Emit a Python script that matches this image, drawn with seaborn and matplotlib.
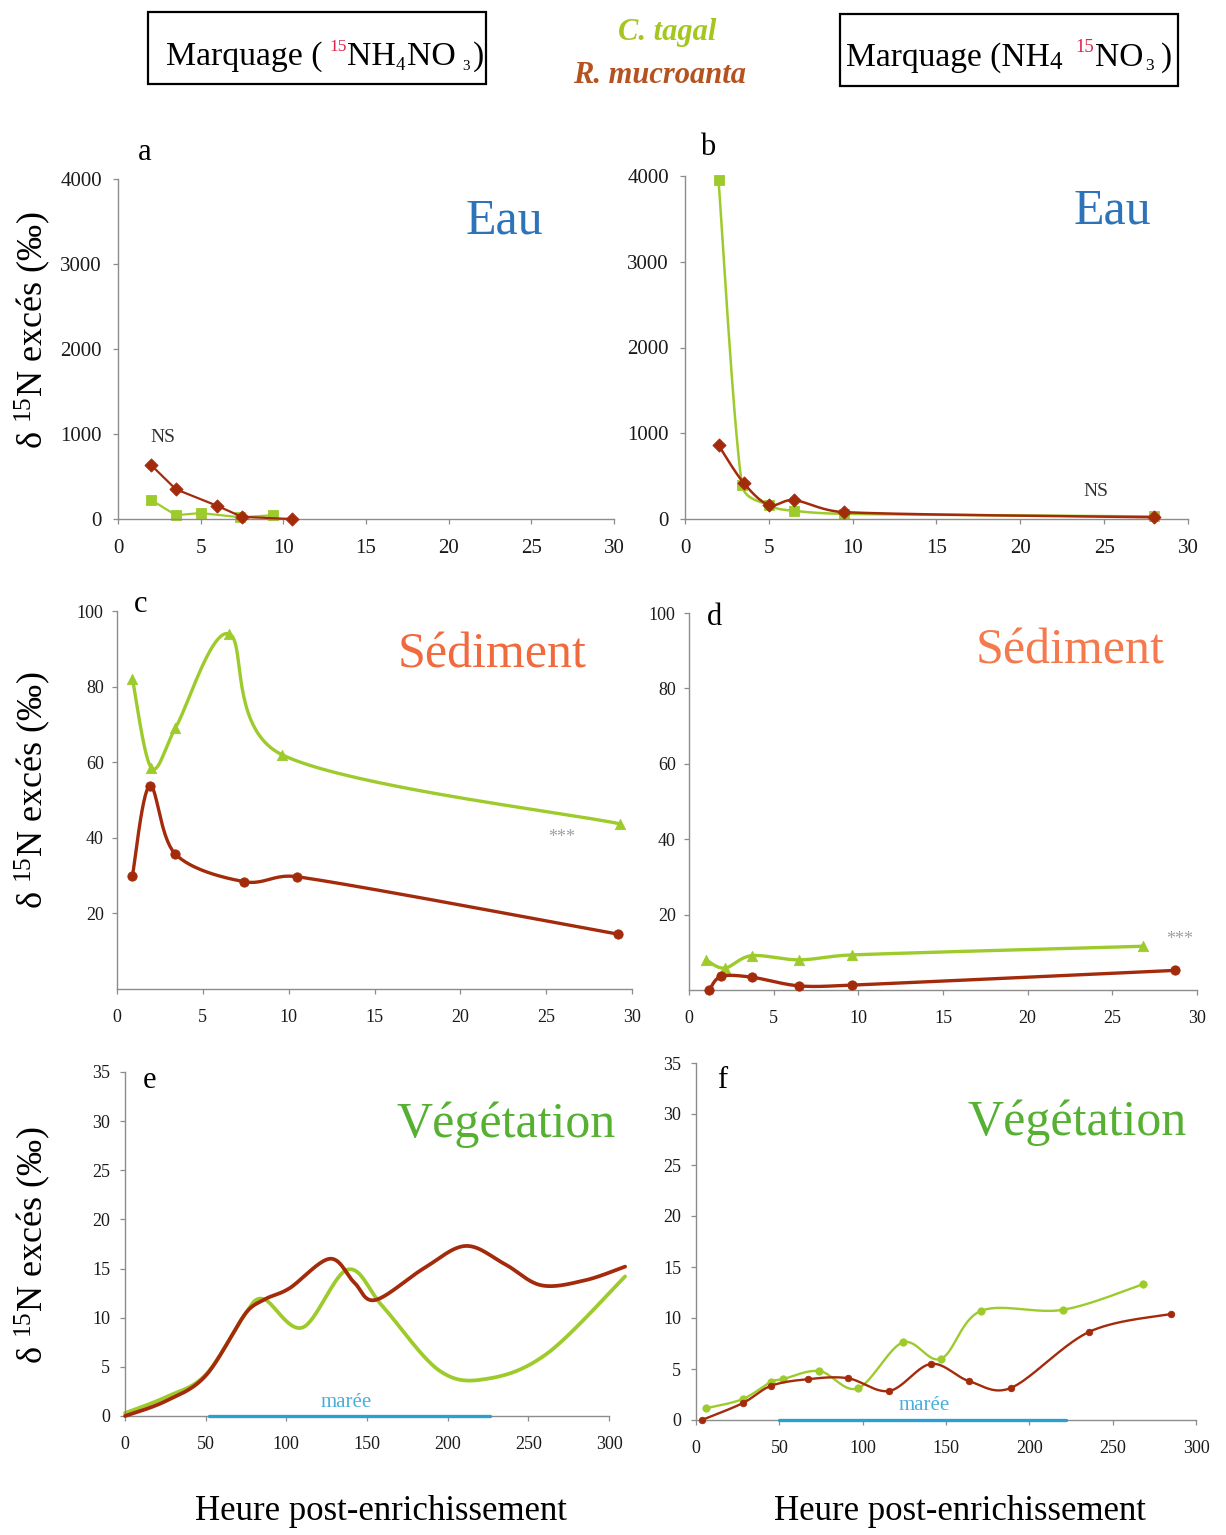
import numpy as np
import matplotlib
matplotlib.use("Agg")
import matplotlib.pyplot as plt
import seaborn as sns
from matplotlib.patches import Rectangle
from matplotlib.transforms import IdentityTransform

# ---------------- data ----------------
# a : water, 15NH4NO3 labelling (hours, delta 15N excess)
a_ct_x = [2.0, 3.5, 5.0, 7.4, 9.4]
a_ct_y = [225, 45, 70, 20, 45]
a_rm_x = [2.0, 3.5, 6.0, 7.5, 10.5]
a_rm_y = [635, 350, 155, 25, 0]

# b : water, NH4 15NO3 labelling
b_ct_x = [2.0, 3.4, 5.0, 6.5, 9.5, 28.0]
b_ct_y = [3950, 400, 160, 95, 60, 30]
b_rm_x = [2.0, 3.5, 5.0, 6.5, 9.5, 28.0]
b_rm_y = [860, 420, 165, 220, 80, 20]

# c : sediment, 15NH4NO3
c_ct_x = [0.9, 2.0, 3.4, 6.5, 9.6, 29.3]
c_ct_y = [82, 58.5, 69, 94, 62, 43.7]
c_rm_x = [0.9, 1.9, 3.4, 7.4, 10.5, 29.2]
c_rm_y = [30, 53.7, 35.7, 28.4, 29.7, 14.5]

# d : sediment, NH4 15NO3
d_ct_x = [1.0, 2.1, 3.7, 6.5, 9.6, 26.8]
d_ct_y = [8.0, 5.8, 9.1, 8.0, 9.3, 11.6]
d_rm_x = [1.2, 1.9, 3.7, 6.5, 9.6, 28.7]
d_rm_y = [0.0, 3.6, 3.4, 1.1, 1.3, 5.2]

# e : vegetation, 15NH4NO3
e_ct_x = [0, 25, 50, 75, 86, 110, 138, 160, 195, 225, 262, 310]
e_ct_y = [0.3, 1.9, 4.2, 10.5, 11.9, 9.0, 14.9, 11.1, 4.6, 3.8, 6.4, 14.2]
e_rm_x = [0, 25, 50, 75, 87, 102, 127, 142, 155, 185, 211, 235, 258, 285, 310]
e_rm_y = [0, 1.5, 4.1, 10.5, 11.9, 13.0, 16.0, 13.6, 11.8, 15.0, 17.3, 15.5, 13.3, 13.8, 15.2]

# f : vegetation, NH4 15NO3
f_ct_x = [6, 28, 45, 52, 74, 97, 124, 147, 171, 220, 268]
f_ct_y = [1.15, 2.05, 3.75, 4.0, 4.8, 3.1, 7.6, 6.0, 10.7, 10.8, 13.3]
f_rm_x = [3.5, 28, 45, 67, 91, 116, 141, 164, 189, 236, 285]
f_rm_y = [0.0, 1.65, 3.35, 4.0, 4.1, 2.85, 5.5, 3.8, 3.15, 8.65, 10.4]

# tide period (hours)
tide_e = [52, 226]
tide_f = [50, 222]

water_ticks_x = [0, 5, 10, 15, 20, 25, 30]
water_ticks_y = [0, 1000, 2000, 3000, 4000]
sed_ticks_y = [20, 40, 60, 80, 100]
veg_ticks_x = [0, 50, 100, 150, 200, 250, 300]
veg_ticks_y = [0, 5, 10, 15, 20, 25, 30, 35]

GREEN = "#9dcb2c"
RED = "#a32b0c"
BLUE_T = "#2d73b9"
ORANGE_T = "#f16a3d"
GREEN_T = "#56b032"
TIDE = "#2a9fd0"
AXC = "#8c8c8c"

# ---------------- figure ----------------
sns.set_theme(style="ticks")
plt.rcParams["font.family"] = ["Liberation Serif", "DejaVu Serif"]
plt.rcParams["mathtext.fontset"] = "custom"
plt.rcParams["mathtext.rm"] = "Liberation Serif"
plt.rcParams["mathtext.it"] = "Liberation Serif:italic"
plt.rcParams["mathtext.bf"] = "Liberation Serif:bold"

W, H = 1226, 1535
fig = plt.figure(figsize=(W / 100, H / 100), dpi=100)
fig.patch.set_facecolor("white")
renderer = fig.canvas.get_renderer()
ID = IdentityTransform()


def axes_px(x0, x1, ytop, ybot):
    return fig.add_axes([x0 / W, 1 - ybot / H, (x1 - x0) / W, (ybot - ytop) / H])


def style(ax, xlim, ylim, xt, yt, fs, xpad, ypad):
    ax.set_xlim(xlim)
    ax.set_ylim(ylim)
    ax.set_xticks(xt)
    ax.set_yticks(yt)
    ax.patch.set_alpha(0)
    for s in ["top", "right"]:
        ax.spines[s].set_visible(False)
    for s in ["left", "bottom"]:
        ax.spines[s].set_color(AXC)
        ax.spines[s].set_linewidth(1.0)
    ax.tick_params(direction="out", length=3.6, width=0.9, color=AXC,
                   labelsize=fs, labelcolor="#1a1a1a")
    ax.tick_params(axis="x", pad=xpad)
    ax.tick_params(axis="y", pad=ypad)
    ax.set_xlabel("")
    ax.set_ylabel("")


def smooth(ax, xs, ys, cap=0.45, n=40):
    """Spreadsheet-style smoothed line: cubic Bezier segments whose control
    points follow the neighbouring points, computed in screen space."""
    x0, x1 = ax.get_xlim()
    y0, y1 = ax.get_ylim()
    bb = ax.get_position()
    wp, hp = bb.width * W, bb.height * H
    P = np.column_stack([(np.asarray(xs, float) - x0) / (x1 - x0) * wp,
                         (np.asarray(ys, float) - y0) / (y1 - y0) * hp])
    m = len(P)
    D = np.zeros_like(P)
    for i in range(m):
        a = P[max(i - 1, 0)]
        b = P[min(i + 1, m - 1)]
        D[i] = (b - a) / 6.0
    t = np.linspace(0, 1, n)[:, None]
    out = []
    for i in range(m - 1):
        L = np.linalg.norm(P[i + 1] - P[i])
        d1, d2 = D[i].copy(), D[i + 1].copy()
        for d in (d1, d2):
            nd = np.linalg.norm(d)
            if nd > cap * L and nd > 0:
                d *= cap * L / nd
        c1 = P[i] + d1
        c2 = P[i + 1] - d2
        B = ((1 - t) ** 3 * P[i] + 3 * (1 - t) ** 2 * t * c1
             + 3 * (1 - t) * t ** 2 * c2 + t ** 3 * P[i + 1])
        out.append(B if i == 0 else B[1:])
    Q = np.vstack(out)
    return Q[:, 0] / wp * (x1 - x0) + x0, Q[:, 1] / hp * (y1 - y0) + y0


def series(ax, xs, ys, color, lw, marker=None, s=40, smooth_it=True, z=2):
    if smooth_it:
        sx, sy = smooth(ax, xs, ys)
    else:
        sx, sy = np.asarray(xs, float), np.asarray(ys, float)
    sns.lineplot(x=sx, y=sy, ax=ax, color=color, linewidth=lw, sort=False,
                 estimator=None, clip_on=False, zorder=z)
    if marker is not None:
        sns.scatterplot(x=xs, y=ys, ax=ax, marker=marker, s=s, color=color,
                        edgecolor=color, linewidth=0.6, clip_on=False,
                        zorder=z + 0.5, legend=False)


def ftext(x, y, s, **kw):
    kw.setdefault("transform", ID)
    return fig.text(x, H - y, s, **kw)


# ---------- panel a ----------
ax_a = axes_px(118, 614, 179, 519)
style(ax_a, (0, 30), (0, 4000), water_ticks_x, water_ticks_y, 15, 11, 8)
series(ax_a, a_ct_x, a_ct_y, GREEN, 1.6, "s", 55, smooth_it=False)
series(ax_a, a_rm_x, a_rm_y, RED, 1.6, "D", 45, smooth_it=False, z=3)
ftext(163, 438, "NS", fontsize=14, ha="center", va="center", color="#333333")

# ---------- panel b ----------
ax_b = axes_px(685, 1188, 176, 519)
style(ax_b, (0, 30), (0, 4000), water_ticks_x, water_ticks_y, 15, 11, 8)
series(ax_b, b_ct_x, b_ct_y, GREEN, 1.8, "s", 55)
series(ax_b, b_rm_x, b_rm_y, RED, 1.8, "D", 45, z=3)
ftext(1096, 492, "NS", fontsize=14, ha="center", va="center", color="#333333")

# ---------- panel c ----------
ax_c = axes_px(117, 632, 611, 989)
style(ax_c, (0, 30), (0, 100), water_ticks_x, sed_ticks_y, 13, 11, 6)
series(ax_c, c_ct_x, c_ct_y, GREEN, 2.4, "^", 55)
series(ax_c, c_rm_x, c_rm_y, RED, 2.4, "o", 45, z=3)
ftext(562, 838, "***", fontsize=13, ha="center", va="center", color="#a0a0a0")

# ---------- panel d ----------
ax_d = axes_px(689, 1197, 613, 990)
style(ax_d, (0, 30), (0, 100), water_ticks_x, sed_ticks_y, 13, 11, 6)
series(ax_d, d_ct_x, d_ct_y, GREEN, 2.4, "^", 55)
series(ax_d, d_rm_x, d_rm_y, RED, 2.4, "o", 45, z=3)
ftext(1180, 940, "***", fontsize=13, ha="center", va="center", color="#a0a0a0")

# ---------- panel e ----------
ax_e = axes_px(125, 609, 1072, 1416)
style(ax_e, (0, 300), (0, 35), veg_ticks_x, veg_ticks_y, 13, 11, 7)
series(ax_e, e_ct_x, e_ct_y, GREEN, 2.7)
series(ax_e, e_rm_x, e_rm_y, RED, 2.7, z=3)
sns.lineplot(x=tide_e, y=[0, 0], ax=ax_e, color=TIDE, linewidth=2.4,
             clip_on=False, zorder=4)
ax_e.text(np.mean(tide_e) - 2, 0.45, "marée", color="#49aedb", fontsize=15,
          ha="center", va="bottom")

# ---------- panel f ----------
ax_f = axes_px(696, 1196, 1063, 1420)
style(ax_f, (0, 300), (0, 35), veg_ticks_x, veg_ticks_y, 13, 11, 7)
series(ax_f, f_ct_x, f_ct_y, GREEN, 1.7, "o", 28)
series(ax_f, f_rm_x, f_rm_y, RED, 1.7, "o", 22, z=3)
sns.lineplot(x=tide_f, y=[0, 0], ax=ax_f, color=TIDE, linewidth=2.4,
             clip_on=False, zorder=4)
ax_f.text(np.mean(tide_f) + 1, 0.45, "marée", color="#49aedb", fontsize=15,
          ha="center", va="bottom")

# ---------- panel letters and titles ----------
for x, y, s in [(138, 160, "a"), (700, 155, "b"), (134, 612, "c"),
                (707, 625, "d"), (143, 1088, "e"), (717, 1088, "f")]:
    ftext(x, y, s, fontsize=22, ha="left", va="baseline", color="black")

for x, y, s, c in [(504, 234, "Eau", BLUE_T), (1112, 224, "Eau", BLUE_T),
                   (492, 667, "Sédiment", ORANGE_T), (1070, 663, "Sédiment", "#f47a4e"),
                   (506, 1137, "Végétation", GREEN_T), (1077, 1135, "Végétation", GREEN_T)]:
    ftext(x, y, s, fontsize=36, ha="center", va="baseline", color=c)

ylab = r"δ $^{15}$N excés (‰)"
for y in [330, 790, 1245]:
    ftext(33, y, ylab, fontsize=26, rotation=90, ha="center", va="center", color="black")

for x in [381, 960]:
    ftext(x, 1512, "Heure post-enrichissement", fontsize=25, ha="center",
          va="center", color="black")


# ---------- header ----------
def rich(pieces, x_px, base_px, target_w):
    def lay(scale):
        arts, x = [], x_px
        for s, size, color, dy, gap in pieces:
            x += gap * scale
            t = fig.text(x, H - base_px + dy * scale, s, transform=ID,
                         fontsize=size * scale, color=color, ha="left", va="baseline")
            x += t.get_window_extent(renderer).width
            arts.append(t)
        return arts, x - x_px
    arts, w = lay(1.0)
    for a in arts:
        a.remove()
    lay(target_w / w)


RED15 = "#e2214c"
rich([("Marquage (", 27, "black", 0, 0), ("15", 14, RED15, 16, 8),
      ("NH", 27, "black", 0, 0), ("4", 15, "black", -5, 0),
      ("NO", 27, "black", 0, 2), ("3", 12, "black", -5, 7),
      (")", 27, "black", 0, 3)], 166, 65, 318)
rich([("Marquage (NH", 27, "black", 0, 0), ("4", 20, "black", -3, 0),
      ("15", 15, RED15, 16, 14), ("NO", 27, "black", 0, 2),
      ("3", 14, "black", -5, 2), (")", 27, "black", 0, 7)], 846, 66, 326)

for (x, y, w, h) in [(148, 12, 338, 72), (840, 14, 338, 72)]:
    fig.add_artist(Rectangle((x / W, 1 - (y + h) / H), w / W, h / H,
                             transform=fig.transFigure, fill=False,
                             edgecolor="black", linewidth=1.6))

ftext(667, 40, "C. tagal", fontsize=22, fontweight="bold", fontstyle="italic",
      color="#a4c61f", ha="center", va="baseline")
ftext(660, 83, "R. mucroanta", fontsize=22, fontweight="bold", fontstyle="italic",
      color="#b5521f", ha="center", va="baseline")

fig.savefig("out.png", dpi=100, facecolor="white")
